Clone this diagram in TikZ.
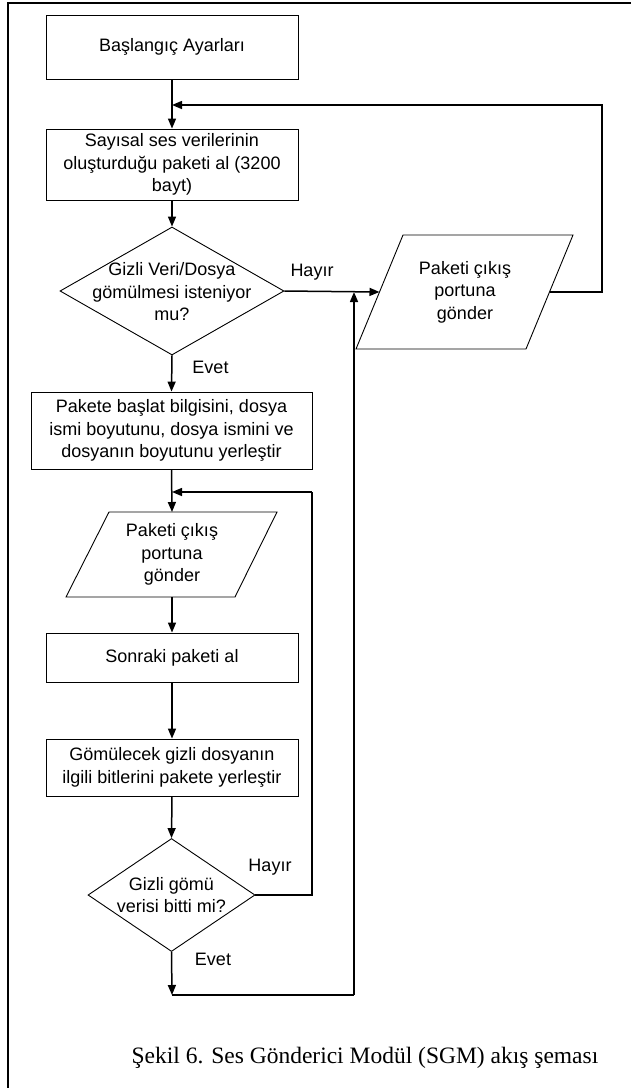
\documentclass[tikz,border=0pt]{standalone}
\usepackage{fontspec}
\setmainfont{Liberation Serif}
\newfontfamily\arialf{Liberation Sans}
\usetikzlibrary{shapes.geometric,arrows.meta}
\begin{document}
\begin{tikzpicture}[x=1pt,y=-1pt,
  every node/.style={font=\arialf\fontsize{18}{22.5}\selectfont},
  procbox/.style={draw,line width=0.9pt,rectangle,inner sep=0pt,align=center,minimum width=252pt},
  decision/.style={draw,line width=0.9pt,diamond,inner sep=0pt},
  iobox/.style={draw,line width=0.9pt},
  conn/.style={line width=1.5pt,-{Triangle[length=10pt,width=8pt]}},
  plain/.style={line width=1.5pt},
  lbl/.style={inner sep=0pt}]
\useasboundingbox (0,0) rectangle (631,1088);
\draw[line width=2pt] (8,1088) -- (8,2.5) -- (631,2.5);

% nodes
\node[procbox,minimum height=64pt] (b1) at (172,47) {Başlangıç Ayarları};
\node[procbox,minimum height=71pt] (b2) at (172,164.5) {Sayısal ses verilerinin\\oluşturduğu paketi al (3200\\bayt)};
\node[decision,minimum width=224pt,minimum height=128pt] (d1) at (172,291) {};
\node[lbl,align=center] (d1t) at (172,292) {Gizli Veri/Dosya\\gömülmesi isteniyor\\mu?};

% parallelogram 1
\draw[iobox] (403,235) -- (573,235) -- (526,349) -- (356,349) -- cycle;
\coordinate (p1w) at (379.5,292);
\coordinate (p1e) at (549.5,292);
\node[lbl,align=center] (p1t) at (465,292) {Paketi çıkış\\portuna\\gönder};

\node[procbox,minimum width=281pt,minimum height=77pt] (b3) at (171.5,430.5) {Pakete başlat bilgisini, dosya\\ismi boyutunu, dosya ismini ve\\dosyanın boyutunu yerleştir};

% parallelogram 2
\draw[iobox] (109,512) -- (277,512) -- (235,597) -- (66,597) -- cycle;
\coordinate (p2n) at (172,512);
\coordinate (p2s) at (172,597);
\node[lbl,align=center] (p2t) at (172,554.5) {Paketi çıkış\\portuna\\gönder};

\node[procbox,minimum height=49pt] (b4) at (172,657.5) {Sonraki paketi al};
\node[procbox,minimum height=57pt] (b5) at (172,767.5) {Gömülecek gizli dosyanın\\ilgili bitlerini pakete yerleştir};
\node[decision,minimum width=167pt,minimum height=113pt] (d2) at (171.5,895) {};
\node[lbl,align=center] (d2t) at (171.5,895) {Gizli gömü\\verisi bitti mi?};

% junction coordinates
\coordinate (j1) at (172,105);
\coordinate (r1) at (602,292);
\coordinate (r1t) at (602,105);
\coordinate (j2) at (172,492);
\coordinate (r2) at (312,895);
\coordinate (r2t) at (312,492);
\coordinate (j3) at (172,995);
\coordinate (r3) at (354,995);
\coordinate (j4) at (354,292);

% connectors
\draw[conn] (b1.south) -- (b2.north);
\draw[plain] (p1e) -- (r1) -- (r1t) -- (j1 -| 180,0);
\draw[conn] (r1t) -- (j1);
\draw[conn] (b2.south) -- (d1.north);
\draw[conn] (d1.east) -- (p1w);
\draw[conn] (d1.south) -- (b3.north);
\draw[conn] (b3.south) -- (p2n);
\draw[plain] (d2.east) -- (r2) -- (r2t);
\draw[conn] (r2t) -- (j2);
\draw[conn] (p2s) -- (b4.north);
\draw[conn] (b4.south) -- (b5.north);
\draw[conn] (b5.south) -- (d2.north);
\draw[conn] (d2.south) -- (j3);
\draw[plain] (j3) -- (r3);
\draw[conn] (r3) -- (j4);

% labels
\node[lbl] (h1) at (312,272) {Hayır};
\node[lbl] (e1) at (210.5,367) {Evet};
\node[lbl] (h2) at (270,867) {Hayır};
\node[lbl] (e2) at (213,959) {Evet};

% caption
\node[lbl,anchor=base,font=\rmfamily\fontsize{23.5}{28}\selectfont] (cap) at (365,1063) {Şekil 6. Ses Gönderici Modül (SGM) akış şeması};
\end{tikzpicture}
\end{document}
